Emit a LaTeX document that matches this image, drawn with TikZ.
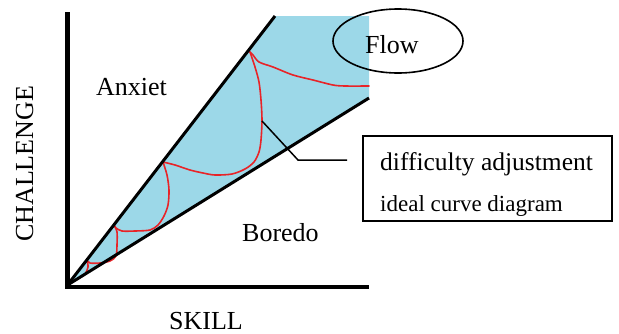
\documentclass[tikz,border=0pt]{standalone}
\usepackage{fontspec}
\setmainfont{Liberation Serif}
\usetikzlibrary{shapes.geometric}
\definecolor{flowblue}{RGB}{156,216,232}
\definecolor{curvered}{RGB}{232,36,40}
\begin{document}
\begin{tikzpicture}[x=1pt,y=-1pt,
  lbl/.style={anchor=base west,inner sep=0pt,font=\fontsize{26}{30}\selectfont},
  axisline/.style={line width=4.5pt},
  zone/.style={line width=3pt},
  redc/.style={curvered,line width=1.6pt,line cap=round,line join=round},
  ]
\useasboundingbox (0,0) rectangle (619,333);
\coordinate (O) at (67.5,285);
\coordinate (U) at (275,16);
\coordinate (L) at (369,98);
\fill[flowblue] (O) -- (U) -- (369,16) -- (L) -- cycle;
% red curves
\draw[redc] plot[smooth,tension=0.5] coordinates {(250,52) (253,55) (259,62) (273,67) (293,75) (313,80) (333,85) (345,86) (369,86)};
\draw[redc] plot[smooth,tension=0.5] coordinates {(250,52) (255,67) (259,82) (261,100) (262,120) (261,140) (259,152) (254,162) (245,169) (232,174) (215,175) (203,173) (190,170) (175,165) (163,162)};
\draw[redc] plot[smooth,tension=0.5] coordinates {(163,162) (167,175) (169,190) (168,205) (164,216) (158,225) (150,230) (135,231) (122,231) (116,228) (114,225)};
\draw[redc] plot[smooth,tension=0.5] coordinates {(114,225) (117,232) (117,245) (116,256) (110,261) (100,263) (90,263) (87,260)};
\draw[redc] plot[smooth,tension=0.5] coordinates {(87,260) (88,267) (85,274) (78,279) (70,283)};
% zone lines
\draw[zone] (O) -- (U);
\draw[zone] (O) -- (L);
% axes
\draw[axisline] (67.5,12) -- (67.5,287.2) -- (369,287.2);
% ellipse
\node[draw,ellipse,line width=1.6pt,minimum width=130pt,minimum height=64pt,inner sep=0pt] (flowell) at (398,41) {};
\node[lbl] (flow) at (365,53) {Flow};
\node[lbl] (anx) at (96,95) {Anxiet};
\node[lbl] (bor) at (242,241) {Boredo};
\node[lbl] (skill) at (169,329) {SKILL};
\node[lbl,rotate=90] (chal) at (33,242) {CHALLENGE};
% box
\node[draw,line width=1.8pt,minimum width=249pt,minimum height=85pt,inner sep=0pt] (box) at (487.5,178.5) {};
\node[anchor=base west,inner sep=0pt,font=\fontsize{25.5}{30}\selectfont] (t1) at (380,170) {difficulty adjustment};
\node[anchor=base west,inner sep=0pt,font=\fontsize{23}{28}\selectfont] (t2) at (380,211) {ideal curve diagram};
\coordinate (lead) at (262,121);
\coordinate (bend) at (298,160);
\coordinate (lend) at (347,160);
\draw[line width=1.5pt] (lead) -- (bend) -- (lend);
\end{tikzpicture}
\end{document}
